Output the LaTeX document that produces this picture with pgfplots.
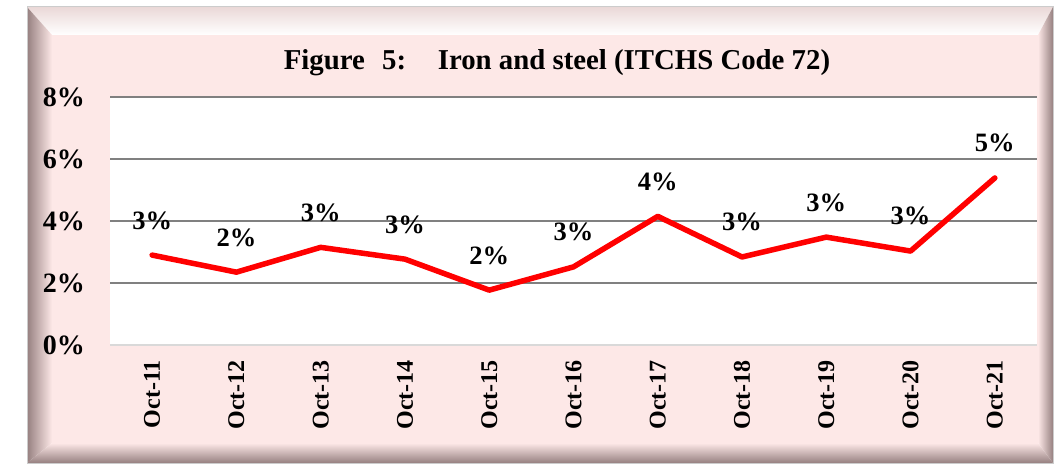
\documentclass[border=0pt]{standalone}
\usepackage{pgfplots}
\pgfplotsset{compat=1.18}
\usepackage{fontspec}
\setmainfont{Liberation Serif}
\definecolor{pinkbg}{RGB}{253,232,231}
\definecolor{bevdark}{RGB}{150,128,128}
\definecolor{gridgray}{RGB}{128,128,128}
\definecolor{lightaxis}{RGB}{217,217,217}
\newcommand{\lblfont}{\fontsize{26.5}{30}\selectfont\bfseries}
\newcommand{\ylblfont}{\fontsize{28}{32}\selectfont\bfseries}
\newcommand{\xlblfont}{\fontsize{24}{28}\selectfont\bfseries}
\begin{document}
\begin{tikzpicture}[x=1pt,y=1pt]
\useasboundingbox (0,0) rectangle (1058,464);
\fill[white] (0,0) rectangle (1058,464);
% frame
\fill[pinkbg] (52,21) rectangle (1038,429);
\shade[top color=pinkbg!85!gray, bottom color=white] (27,457) -- (1053,457) -- (1038,429) -- (52,429) -- cycle;
\shade[left color=bevdark, right color=pinkbg] (27,1) -- (52,21) -- (52,429) -- (27,457) -- cycle;
\shade[top color=pinkbg, bottom color=bevdark] (27,1) -- (1053,1) -- (1038,21) -- (52,21) -- cycle;
\shade[left color=pinkbg, right color=bevdark] (1038,21) -- (1053,1) -- (1053,457) -- (1038,429) -- cycle;
\draw[gray!40, line width=1pt] (27,1) rectangle (1053,457);
\begin{axis}[
  at={(110pt,119pt)}, anchor=south west,
  scale only axis, width=927pt, height=248pt,
  xmin=-0.5, xmax=10.5, ymin=0, ymax=8,
  xtick={0,...,10},
  xticklabels={Oct-11,Oct-12,Oct-13,Oct-14,Oct-15,Oct-16,Oct-17,Oct-18,Oct-19,Oct-20,Oct-21},
  ytick={0,2,4,6,8},
  yticklabel={\pgfmathprintnumber{\tick}\%},
  /pgf/number format/assume math mode=true,
  axis background/.style={fill=white},
  ymajorgrids, grid style={gridgray, line width=1.5pt},
  axis x line*=bottom, axis y line*=left,
  x axis line style={lightaxis, line width=2pt},
  y axis line style={draw=none},
  major tick length=0pt,
  y tick label style={font=\ylblfont, anchor=east, inner sep=0pt},
  x tick label style={font=\xlblfont, rotate=90, anchor=east, inner sep=0pt},
  yticklabel shift=25pt,
  xticklabel shift=15pt,
  clip=false,
]
\addplot[red, line width=5.5pt, line join=round, line cap=round,
  point meta=y,
  nodes near coords={\pgfmathprintnumber[fixed,precision=0]{\pgfplotspointmeta}\%},
  every node near coord/.append style={font=\lblfont, text=black, anchor=south, inner sep=0pt, yshift=23pt}]
coordinates {
(0,2.90) (1,2.35) (2,3.15) (3,2.77) (4,1.77) (5,2.52) (6,4.15) (7,2.84) (8,3.48) (9,3.03) (10,5.39)
};
\end{axis}
\node[font=\fontsize{28.8}{32}\selectfont\bfseries] at (557,401) {Figure\hspace{0.6em}5:\hspace{1.1em}Iron and steel (ITCHS Code 72)};
\end{tikzpicture}
\end{document}
